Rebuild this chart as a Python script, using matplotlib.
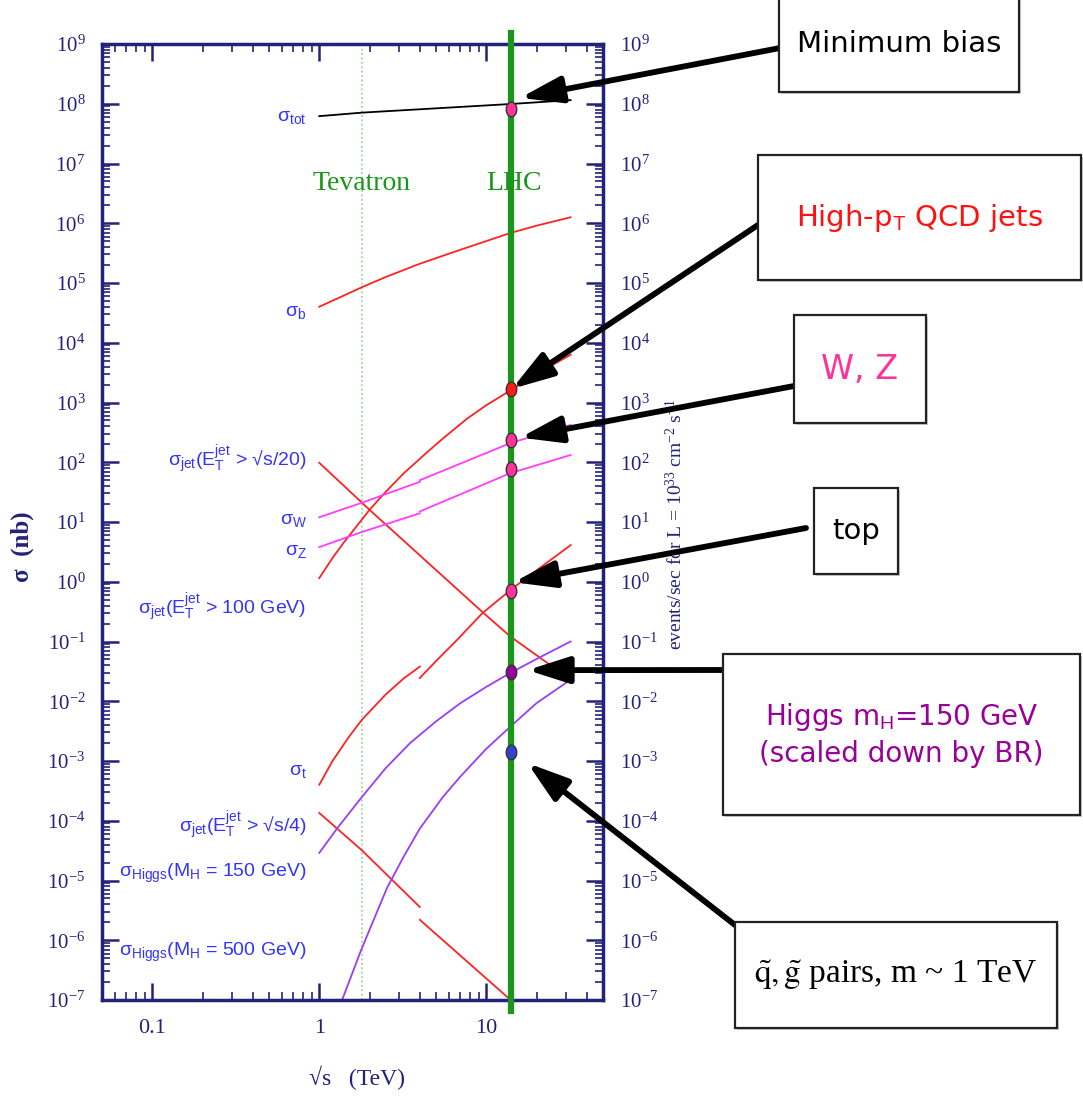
# Cross sections vs sqrt(s) with LHC / Tevatron markers and callout boxes
import numpy as np
import matplotlib.pyplot as plt
from matplotlib.path import Path
from matplotlib.patches import Rectangle
from matplotlib.ticker import FixedLocator, LogLocator, FuncFormatter, NullFormatter

plt.rcParams['font.family'] = ['Liberation Serif', 'DejaVu Serif']
plt.rcParams['mathtext.fontset'] = 'custom'
plt.rcParams['mathtext.rm'] = 'Liberation Sans'
plt.rcParams['mathtext.it'] = 'Liberation Sans:italic'
plt.rcParams['mathtext.bf'] = 'Liberation Sans:bold'

W_PX, H_PX = 1083, 1096

# ---- data (sqrt(s) in TeV, sigma in nb) ----
lhc_energy = 14.0
tevatron_energy = 1.8

tot_x = [1, 1.8, 14, 32]
tot_y = [6.2e7, 7.1e7, 9.9e7, 1.15e8]

b_x = [1, 1.8, 2.5, 4, 7, 14, 20, 32]
b_y = [4.0e4, 8.5e4, 1.26e5, 2.1e5, 3.6e5, 6.9e5, 9.1e5, 1.26e6]

jet100_x = [1, 1.2, 1.4, 2, 2.5, 3.2, 4.4, 5.5, 7.7, 10, 14, 20, 32]
jet100_y = [1.15, 2.5, 4.5, 16, 32, 65, 145, 250, 540, 900, 1.6e3, 3.0e3, 6.3e3]

jet_s20_x = [1, 2, 9.5, 14, 32]
jet_s20_y = [98, 16, 0.31, 0.12, 0.023]

w_ppbar_x = [1, 1.8, 4]
w_ppbar_y = [12, 21, 47]
w_pp_x = [4, 14, 32]
w_pp_y = [50, 210, 420]

z_ppbar_x = [1, 1.8, 4]
z_ppbar_y = [3.8, 6.8, 14]
z_pp_x = [4, 14, 32]
z_pp_y = [15, 66, 132]

top_ppbar_x = [1, 1.2, 1.5, 1.8, 2.5, 3.2, 4]
top_ppbar_y = [4.0e-4, 1.0e-3, 2.5e-3, 4.9e-3, 1.3e-2, 2.4e-2, 3.8e-2]
top_pp_x = [4, 5, 6.7, 9.5, 14.5, 20, 32]
top_pp_y = [2.45e-2, 4.7e-2, 0.107, 0.30, 0.79, 1.55, 4.1]

jet_s4_ppbar_x = [1, 1.8, 4]
jet_s4_ppbar_y = [1.35e-4, 3.2e-5, 3.6e-6]
jet_s4_pp_x = [4, 14]
jet_s4_pp_y = [2.2e-6, 1.0e-7]

h150_x = [1, 1.3, 1.8, 2.5, 3.5, 5, 7, 10, 14, 20, 32]
h150_y = [2.9e-5, 7.9e-5, 2.5e-4, 7.6e-4, 2.0e-3, 4.6e-3, 9.3e-3, 1.74e-2, 3.0e-2, 5.1e-2, 0.1]

h500_x = [1.37, 1.76, 2, 2.55, 3.2, 4, 5.5, 7, 10, 14, 20, 32]
h500_y = [1e-7, 6.3e-7, 1.5e-6, 7.6e-6, 2.5e-5, 7.4e-5, 2.5e-4, 5.5e-4, 1.6e-3, 3.8e-3, 9.3e-3, 2.3e-2]

# points on the LHC line
lhc_vals = [8.1e7, 1.7e3, 235, 78, 0.70, 0.031, 1.4e-3]
lhc_cols = ['#ff3399', '#ff1a1a', '#ff3399', '#ff3399', '#ff3399', '#990099', '#3344cc']

# curve labels (left side)
curve_labels = [
    'σ$_{\\rm tot}$', 'σ$_{\\rm b}$',
    'σ$_{\\rm jet}$(E$_{\\rm T}^{\\rm jet}$ > √s/20)',
    'σ$_{\\rm W}$', 'σ$_{\\rm Z}$',
    'σ$_{\\rm jet}$(E$_{\\rm T}^{\\rm jet}$ > 100 GeV)',
    'σ$_{\\rm t}$',
    'σ$_{\\rm jet}$(E$_{\\rm T}^{\\rm jet}$ > √s/4)',
    'σ$_{\\rm Higgs}$(M$_{\\rm H}$ = 150 GeV)',
    'σ$_{\\rm Higgs}$(M$_{\\rm H}$ = 500 GeV)',
]
curve_label_y = [5.8e7, 3.2e4, 110, 10.5, 3.2, 0.36, 6.8e-4, 8.1e-5, 1.3e-5, 6.2e-7]

navy = '#22227a'
red = '#ff2222'
magenta = '#ff3cff'
violet = '#9a3cff'
green = '#1a961a'
label_blue = '#3333ff'


def fig_pt(px, py):
    # picture pixels (origin top-left) -> figure fraction
    return (px / W_PX, 1 - py / H_PX)


fig = plt.figure(figsize=(W_PX / 100, H_PX / 100), dpi=100)
ax = fig.add_axes([102 / W_PX, 1 - 1000 / H_PX, 501 / W_PX, 956 / H_PX])
ax.set_xscale('log')
ax.set_yscale('log')
ax.set_xlim(0.05, 50)
ax.set_ylim(1e-7, 1e9)

curves = [
    (tot_x, tot_y, 'black'),
    (b_x, b_y, red),
    (jet100_x, jet100_y, red),
    (jet_s20_x, jet_s20_y, red),
    (w_ppbar_x, w_ppbar_y, magenta),
    (w_pp_x, w_pp_y, magenta),
    (z_ppbar_x, z_ppbar_y, magenta),
    (z_pp_x, z_pp_y, magenta),
    (top_ppbar_x, top_ppbar_y, red),
    (top_pp_x, top_pp_y, red),
    (jet_s4_ppbar_x, jet_s4_ppbar_y, red),
    (jet_s4_pp_x, jet_s4_pp_y, red),
    (h150_x, h150_y, violet),
    (h500_x, h500_y, violet),
]
for cx, cy, col in curves:
    ax.plot(cx, cy, color=col, lw=1.3, zorder=2)

# Tevatron (dotted) and LHC (thick) lines
ax.axvline(tevatron_energy, color='#8fd08f', lw=1.2, ls=':', zorder=1)
ax.axvline(lhc_energy, ymin=-0.011, ymax=1.012, color=green, lw=4.5,
           clip_on=False, zorder=3)

ax.text(tevatron_energy, 4.7e6, 'Tevatron', color=green, fontsize=20,
        ha='center', va='center')
ax.text(lhc_energy * 1.04, 4.7e6, 'LHC', color=green, fontsize=20,
        ha='center', va='center')

# ellipse marker
t = np.linspace(0, 2 * np.pi, 60)
ell = Path(np.column_stack([0.72 * np.cos(t), np.sin(t)]), closed=True)
for v, c in zip(lhc_vals, lhc_cols):
    ax.plot([lhc_energy], [v], marker=ell, ms=10.5, mfc=c, mec='#333333',
            mew=1.0, ls='none', zorder=4, clip_on=False)

for s, yv in zip(curve_labels, curve_label_y):
    ax.text(0.84, yv, s, color=label_blue, fontsize=14, ha='right', va='center',
            family=['Liberation Sans', 'DejaVu Sans'])

# axes styling
for sp in ax.spines.values():
    sp.set_color(navy)
    sp.set_linewidth(2.5)
ax.yaxis.set_major_locator(FixedLocator(10.0 ** np.arange(-7, 10)))
ax.yaxis.set_minor_locator(LogLocator(base=10, subs=np.arange(2, 10), numticks=100))
ax.yaxis.set_major_formatter(FuncFormatter(
    lambda v, p: r'$\mathregular{10^{%d}}$' % round(np.log10(v))))
ax.yaxis.set_minor_formatter(NullFormatter())
ax.xaxis.set_major_locator(FixedLocator([0.1, 1, 10]))
ax.xaxis.set_minor_locator(LogLocator(base=10, subs=np.arange(2, 10), numticks=100))
ax.xaxis.set_major_formatter(FuncFormatter(lambda v, p: '%g' % v))
ax.xaxis.set_minor_formatter(NullFormatter())
ax.tick_params(which='both', direction='in', top=True, right=True,
               labelright=True, color=navy, labelcolor=navy)
ax.tick_params(axis='y', labelsize=15)
ax.tick_params(axis='x', labelsize=16)
ax.tick_params(which='major', length=12, width=1.8, pad=12)
ax.tick_params(which='minor', length=6, width=1.2)
ax.tick_params(axis='x', which='major', pad=14)

ax.text(1.145, 0.497, r'events/sec for L = $\mathregular{10^{33}}$ cm$\mathregular{^{-2}}$ s$\mathregular{^{-1}}$',
        transform=ax.transAxes, rotation=90, ha='center', va='center',
        fontsize=14, color=navy)
fig.text(*fig_pt(22, 547), 'σ  (nb)', rotation=90, ha='center', va='center',
         fontsize=18, weight='bold', color=navy)
fig.text(*fig_pt(357, 1078), '√s   (TeV)', ha='center', va='center',
         fontsize=17, color=navy)

# callout boxes: (left, top, right, bottom) in picture pixels, text, colour, size, family
boxes = [
    ((779, -5, 1019, 92), 'Minimum bias', 'black', 21, 'DejaVu Sans'),
    ((758, 155, 1081, 280), 'High-p$_{\\rm T}$ QCD jets', '#ff1111', 21, 'DejaVu Sans'),
    ((794, 315, 926, 423), 'W, Z', '#ff3399', 24, 'DejaVu Sans'),
    ((814, 488, 898, 574), 'top', 'black', 21, 'DejaVu Sans'),
    ((723, 654, 1080, 815), 'Higgs m$_{\\rm H}$=150 GeV\n(scaled down by BR)', '#990099', 20, 'DejaVu Sans'),
    ((735, 922, 1057, 1028), r'$\tilde{\mathrm{q}},\tilde{\mathrm{g}}$ pairs, m ~ 1 TeV', 'black', 24, 'Liberation Serif'),
]
for (l, tp, r, b), txt, col, fs, fam in boxes:
    x0, y0 = fig_pt(l, b)
    x1, y1 = fig_pt(r, tp)
    fig.add_artist(Rectangle((x0 + 2 / W_PX, y0 - 2 / H_PX), x1 - x0, y1 - y0,
                             transform=fig.transFigure, fc='#cccccc', ec='none',
                             zorder=5))
    fig.add_artist(Rectangle((x0, y0), x1 - x0, y1 - y0, transform=fig.transFigure,
                             fc='white', ec='#222222', lw=1.6, zorder=6))
    kw = {}
    if fam == 'Liberation Serif':
        kw['math_fontfamily'] = 'stix'
    fig.text((x0 + x1) / 2, (y0 + y1) / 2, txt, color=col, fontsize=fs,
             family=fam, ha='center', va='center', linespacing=1.35, zorder=7, **kw)

# arrows: tail in picture pixels, head near the LHC point (index, x nudge, y nudge)
arrows = [
    ((780, 48), 0, 1.14, 1.55),
    ((758, 225), 1, 1.02, 1.0),
    ((794, 386), 2, 1.14, 1.1),
    ((806, 528), 4, 1.04, 1.4),
    ((723, 670), 5, 1.26, 1.07),
    ((735, 925), 6, 1.26, 0.66),
]
for (px, py), idx, fx, fy in arrows:
    ax.annotate('', xy=(lhc_energy * fx, lhc_vals[idx] * fy), xycoords='data',
                xytext=fig_pt(px, py), textcoords='figure fraction',
                arrowprops=dict(arrowstyle='-|>,head_length=1.0,head_width=0.32',
                                mutation_scale=25, lw=4.2, color='black',
                                shrinkA=0, shrinkB=0),
                zorder=8, annotation_clip=False)

plt.savefig('out.png', dpi=100)
